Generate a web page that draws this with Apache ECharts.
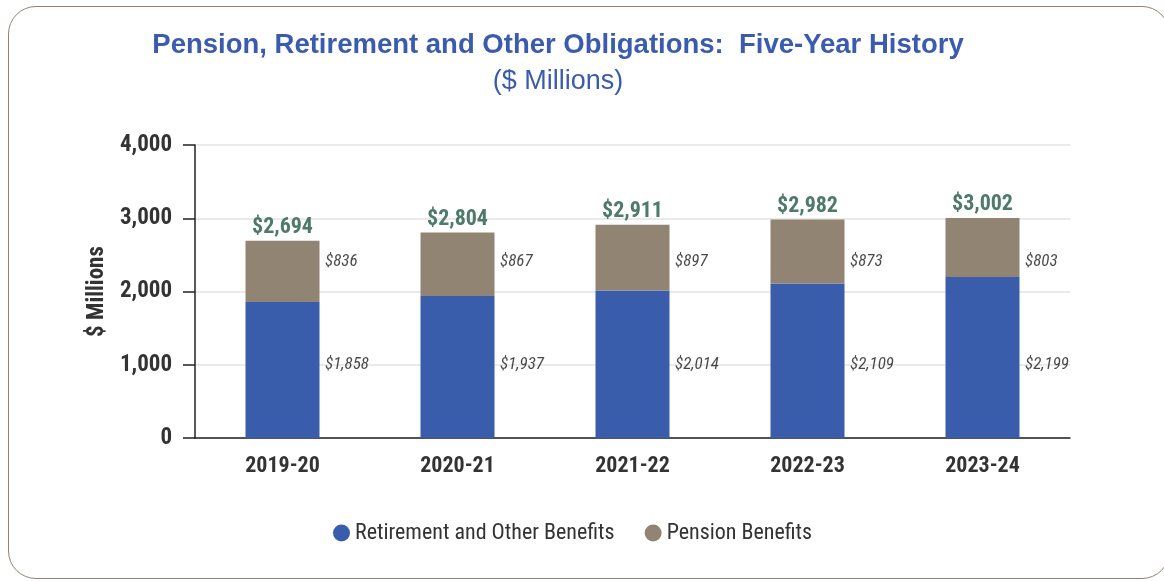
<!DOCTYPE html>
<html><head><meta charset="utf-8">
<script src="https://cdn.jsdelivr.net/npm/echarts@6/dist/echarts.min.js"></script>
<style>
html,body{margin:0;padding:0;background:#fff;width:1164px;height:581px;overflow:hidden;}
#frame{position:absolute;left:8px;top:6px;width:1162px;height:573px;border:1.6px solid #8F8273;border-radius:28px;box-sizing:border-box;}
#chart{position:absolute;left:0;top:0;width:1164px;height:581px;}
</style></head>
<body>
<div id="frame"></div>
<div id="chart"></div>
<script>
const categories = ['2019-20','2020-21','2021-22','2022-23','2023-24'];
const retirement = [1858, 1937, 2014, 2109, 2199];
const pension = [836, 867, 897, 873, 803];
const totals = [2694, 2804, 2911, 2982, 3002];
const yTicks = [0, 1000, 2000, 3000, 4000];

const COND = "'Roboto Condensed','Liberation Sans Narrow','DejaVu Sans Condensed',sans-serif";
const fmt = v => '$' + v.toLocaleString('en-US');
// value-axis levels at which the segment labels sit in the reference
const RET_LABEL_LEVEL = 1000, PEN_LABEL_LEVEL = 2400;

const segLabel = arr => ({show: true, position: 'right', distance: 42,
  fontFamily: COND, fontStyle: 'italic', fontSize: 17, color: '#1a1a1a',
  formatter: p => fmt(arr[p.dataIndex])});

const chart = echarts.init(document.getElementById('chart'));
chart.setOption({
  backgroundColor: 'transparent',
  animation: false,
  title: [{
    text: 'Pension, Retirement and Other Obligations:  Five-Year History',
    left: 553, top: 26, textAlign: 'center',
    textStyle: {fontFamily: "'Liberation Sans',Arial,sans-serif", fontWeight: 'bold', fontSize: 27.5, color: '#3A5BAE'}
  }, {
    text: '($ Millions)',
    left: 553, top: 63, textAlign: 'center',
    textStyle: {fontFamily: "'Liberation Sans',Arial,sans-serif", fontWeight: 'normal', fontSize: 27, color: '#3A5BAE'}
  }],
  legend: {
    data: ['Retirement and Other Benefits', 'Pension Benefits'],
    bottom: 32, left: 328,
    icon: 'circle', itemWidth: 17, itemHeight: 17, itemGap: 30,
    textStyle: {fontFamily: COND, fontSize: 22, color: '#333'}
  },
  grid: {left: 195, right: 94, top: 145, bottom: 143},
  xAxis: {
    type: 'category', data: categories,
    axisLine: {lineStyle: {color: '#222', width: 1.5}},
    axisTick: {alignWithLabel: true, length: 12, lineStyle: {color: '#222', width: 1.5}},
    axisLabel: {fontFamily: COND, fontWeight: 'bold', fontSize: 22, color: '#333', margin: 17}
  },
  yAxis: {
    type: 'value', min: yTicks[0], max: yTicks[yTicks.length-1], interval: 1000,
    name: '$ Millions', nameLocation: 'middle', nameGap: 84,
    nameTextStyle: {fontFamily: COND, fontWeight: 'bold', fontSize: 23, color: '#333'},
    axisLine: {show: true, lineStyle: {color: '#222', width: 1.5}},
    axisTick: {show: true, length: 12, lineStyle: {color: '#222', width: 1.5}},
    splitLine: {lineStyle: {color: '#e3e3e3', width: 1.5}},
    axisLabel: {fontFamily: COND, fontWeight: 'bold', fontSize: 23, color: '#333', margin: 23,
      formatter: v => v.toLocaleString('en-US')}
  },
  series: [{
    name: 'Retirement and Other Benefits', type: 'bar', stack: 'a', barWidth: 74,
    data: retirement,
    itemStyle: {color: '#3A5DAB'}
  }, {
    name: 'Pension Benefits', type: 'bar', stack: 'a', barWidth: 74,
    data: pension,
    itemStyle: {color: '#918473'}
  }, {
    name: 'Total', type: 'line', data: totals,
    symbol: 'circle', symbolSize: 1, itemStyle: {color: 'rgba(0,0,0,0)'},
    lineStyle: {opacity: 0}, silent: true,
    label: {show: true, position: 'top', distance: 2,
      fontFamily: COND, fontWeight: 'bold', fontSize: 22, color: '#4E7A6C', formatter: p => fmt(p.value)}
  }, {
    name: 'RetLabels', type: 'scatter', data: retirement.map(() => RET_LABEL_LEVEL),
    symbolSize: 1, itemStyle: {color: 'rgba(0,0,0,0)'}, silent: true,
    label: segLabel(retirement)
  }, {
    name: 'PenLabels', type: 'scatter', data: pension.map(() => PEN_LABEL_LEVEL),
    symbolSize: 1, itemStyle: {color: 'rgba(0,0,0,0)'}, silent: true,
    label: segLabel(pension)
  }]
});
</script>
</body></html>
